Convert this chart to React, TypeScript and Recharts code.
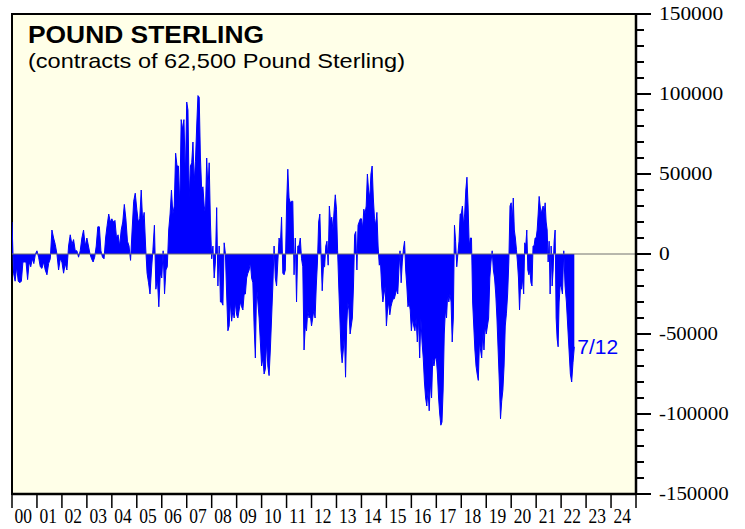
import {
  ComposedChart, Area, XAxis, YAxis, ReferenceArea, ReferenceLine, ReferenceDot,
} from "recharts";

// net positions, thousands of contracts, read roughly every 2-3 weeks
const y2000 = [20, -12, -17, -8, -17, -18, -17, -5, -5, -5, -16, -5, -8, -3, -6, 0];
const y2001 = [2, -2, -8, -9, -5, -10, -13, -6, -3, 15, 10, 6, 0, -10, -3];
const y2002 = [-5, -12, -6, -10, 5, 12, 6, 9, 2, 2, -2, 2, 10, 15, 5];
const y2003 = [10, 5, 0, -3, -5, -2, 5, 17, 17, 2, -2, -3, 10, 18, 25, 20];
const y2004 = [22, 20, 21, 10, 12, 5, 15, 20, 31, 22, 8, 5, -4, 15, 33, 38];
const y2005 = [28, 20, 22, 40, 20, 26, 5, -12, -18, -25, -10, 3, 18, -22, -15, -33, -12];
const y2006 = [-15, 2, -25, -10, -8, 15, 25, 40, 25, 30, 63, 55, 55, 30, 84, 78, 84, 48];
const y2007 = [95, 90, 35, 55, 57, 70, 45, 58, 80, 99, 98, 60, 40, 42, 30, 25, 60, 40, 57, 20];
const y2008 = [-3, 5, -15, -5, 29, -20, 5, -30, -30, -32, 7, 0, -25, -48, -45, -30, -42, -35, -40, -30];
const y2009 = [-38, -40, -35, -30, -33, -35, -25, -25, -15, -12, -10, -5, -15, -18, -45, -65, -20, -30, -40, -55];
const y2010 = [-70, -65, -75, -72, -55, -70, -76, -60, -40, -20, 5, -15, -20, -5, 10, 5, 23, -12, -13, -10];
const y2011 = [30, 53, 35, 32, 33, 33, -13, 10, -30, 5, 5, 10, -3, -8, -60, -45, -48, -35, -40, -38];
const y2012 = [-45, -40, -35, -40, -20, -5, 20, 25, 0, -23, -8, -8, 5, 8, -7, 30, 20, 23, 15, 27, 37];
const y2013 = [28, 2, -20, -40, -60, -68, -60, -50, -77, -45, -30, -35, -50, -45, -40, -20, 12, 14, -10, 18, 20, 22];
const y2014 = [22, 16, 28, 25, 30, 50, 40, 35, 50, 55, 35, 22, 18, 26, 5, -7, -5, -20, -30, -25, -20];
const y2015 = [-45, -35, -30, -38, -33, -30, -28, -28, -25, -22, -25, -10, 2, -18, -5, 3, 8, -10, -20, -33, -30, -35];
const y2016 = [-48, -40, -45, -48, -40, -55, -40, -65, -40, -55, -65, -80, -90, -95, -85, -98, -80, -90, -65, -70, -65];
const y2017 = [-65, -75, -90, -100, -107, -105, -85, -50, -35, -40, -25, -30, -25, -30, -55, -40, 18, 8, -8, 0, 8, 25];
const y2018 = [25, 30, 18, 25, 40, 48, 30, 5, 10, 10, -30, -45, -60, -70, -75, -79, -55, -60, -65, -48, -60, -45];
const y2019 = [-50, -45, -40, -15, -5, 2, -10, -15, -25, -40, -60, -80, -103, -92, -85, -70, -45, -37, -25, -5, 30];
const y2020 = [32, 20, 35, 15, 10, 3, -5, -15, -35, -20, -22, -15, -25, 7, 5, 15, -10, -13, -10, -18, -20, 5, 5, 10];
const y2021 = [10, 15, 25, 36, 30, 25, 28, 30, 25, 32, 20, 15, -5, 8, -25, 5, -20, -10, 8, 15, -40, -53, -58, -30, -20];
const y2022 = [-20, -25, 2, -20, -30, -45, -60, -75, -80, -68, -58];

const yearSeries = [
  y2000, y2001, y2002, y2003, y2004, y2005, y2006, y2007, y2008, y2009, y2010, y2011,
  y2012, y2013, y2014, y2015, y2016, y2017, y2018, y2019, y2020, y2021, y2022,
];
const END_DATE = 2022 + 193 / 365; // 7/12/2022
const lastLabel = "7/12";

const yearTicks = [
  2000, 2001, 2002, 2003, 2004, 2005, 2006, 2007, 2008, 2009, 2010, 2011, 2012,
  2013, 2014, 2015, 2016, 2017, 2018, 2019, 2020, 2021, 2022, 2023, 2024, 2025,
];
const yearLabels = [
  "00", "01", "02", "03", "04", "05", "06", "07", "08", "09", "10", "11", "12",
  "13", "14", "15", "16", "17", "18", "19", "20", "21", "22", "23", "24",
];
const majorTicks = [-150000, -100000, -50000, 0, 50000, 100000, 150000];
const valueTicks: number[] = [];
for (let v = -150000; v <= 150000; v += 10000) valueTicks.push(v);

const data: { t: number; v: number }[] = [];
yearSeries.forEach((vals, k) => {
  const yr = 2000 + k;
  const last = k === yearSeries.length - 1;
  vals.forEach((v, i) => {
    const f = last ? ((END_DATE - yr) * i) / (vals.length - 1) : i / vals.length;
    data.push({ t: yr + f, v: v * 1000 });
  });
});
const lastPoint = data[data.length - 1];

const SERIF = "'Liberation Serif', 'Times New Roman', serif";
const SANS = "'Liberation Sans', Arial, sans-serif";

const XTick = (p: any) => {
  const idx = yearTicks.indexOf(p.payload.value);
  if (idx < 0 || idx >= yearLabels.length) return <g />;
  return (
    <text x={p.x + 2.5} y={p.y + 15} fontFamily={SERIF} fontSize={20} fill="#000"
      textLength={17.5} lengthAdjust="spacingAndGlyphs">
      {yearLabels[idx]}
    </text>
  );
};

// every 10000 gets a short tick, every 50000 a long one with a label
const YTick = (p: any) => {
  const v = p.payload.value;
  const major = majorTicks.includes(v);
  const s = String(v);
  const w = (s.replace("-", "").length) * 10.7 + (v < 0 ? 5.5 : 0);
  return (
    <g>
      <line x1={p.x} x2={p.x + (major ? 15 : 8)} y1={p.y} y2={p.y} stroke="#000" strokeWidth={2} />
      {major && (
        <text x={p.x + 23} y={p.y} dy="0.35em" fontFamily={SERIF} fontSize={18} fill="#000"
          textLength={w} lengthAdjust="spacingAndGlyphs">
          {s}
        </text>
      )}
    </g>
  );
};

export default function App() {
  return (
    <div style={{ position: "absolute", left: 0, top: 0, width: 745, height: 529, background: "#fff" }}>
      <ComposedChart width={745} height={529} data={data}
        margin={{ top: 14, right: 9, left: 12, bottom: 0 }}>
        <ReferenceArea x1={2000} x2={2025} y1={-150000} y2={150000}
          fill="#FFFFE8" fillOpacity={1} stroke="#000" strokeWidth={2} />
        <XAxis dataKey="t" type="number" domain={[2000, 2025]} ticks={yearTicks}
          allowDataOverflow interval={0} height={35} tickSize={14} tickMargin={0}
          axisLine={{ stroke: "#000", strokeWidth: 2.5 }} tickLine={{ stroke: "#000", strokeWidth: 1.5 }}
          tick={<XTick />} />
        <YAxis orientation="right" type="number" domain={[-150000, 150000]} ticks={valueTicks}
          allowDataOverflow interval={0} width={100} tickSize={0} tickMargin={0}
          axisLine={{ stroke: "#000", strokeWidth: 2.5 }} tickLine={false} tick={<YTick />} />
        <Area dataKey="v" type="linear" stroke="#0000FF" strokeWidth={1} fill="#0000FF"
          fillOpacity={1} dot={false} activeDot={false} isAnimationActive={false} />
        <ReferenceLine y={0} stroke="#707070" strokeWidth={1} />
        <ReferenceDot x={lastPoint.t} y={lastPoint.v} r={0} fill="none" stroke="none"
          label={{ value: lastLabel, position: "right", fill: "#0000FF", fontSize: 21, fontFamily: SANS, offset: 3 }} />
      </ComposedChart>
      <svg width={745} height={529} style={{ position: "absolute", left: 0, top: 0, pointerEvents: "none" }}>
        <text x={28} y={43} fontFamily={SANS} fontWeight="bold" fontSize={23} fill="#000"
          textLength={236} lengthAdjust="spacingAndGlyphs">
          POUND STERLING
        </text>
        <text x={28} y={68} fontFamily={SANS} fontSize={21} fill="#000"
          textLength={377} lengthAdjust="spacingAndGlyphs">
          (contracts of 62,500 Pound Sterling)
        </text>
      </svg>
    </div>
  );
}
